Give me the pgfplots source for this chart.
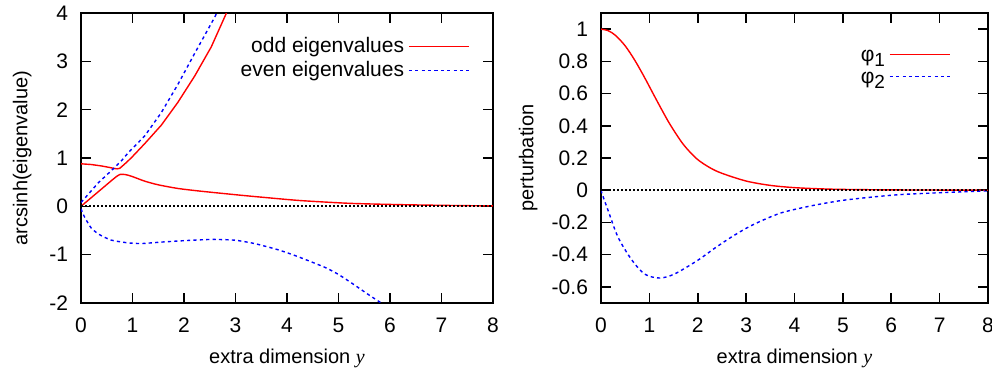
\documentclass[border=0pt]{standalone}
\usepackage{fontspec}
\setmainfont{Liberation Sans}
\newfontfamily\seriffont{Liberation Serif}
\usepackage{pgfplots}
\pgfplotsset{compat=1.18}
\newcommand{\sub}[1]{\raisebox{-0.45ex}{\fontsize{9.5}{10}\selectfont #1}}
\begin{document}
\begin{tikzpicture}
\pgfplotsset{
  every axis/.append style={
    scale only axis, height=145pt,
    axis line style={line width=1pt},
    tick style={black, line width=0.8pt},
    major tick length=5pt,
    tick align=inside,
    xmin=0, xmax=8, xtick={0,1,2,3,4,5,6,7,8},
    xticklabels={0,1,2,3,4,5,6,7,8},
    tick label style={font=\fontsize{10.5}{12}\selectfont},
    label style={font=\fontsize{10.5}{12}\selectfont},
    xticklabel style={yshift=-4pt},
    yticklabel style={xshift=-3pt},
    legend cell align=right,
    legend plot pos=right,
    every axis x label/.style={at={(axis description cs:0.5,-0.19)}, anchor=center},
  },
  redl/.style={red, line width=0.7pt},
  bluel/.style={blue, line width=0.7pt, dash pattern=on 1.6pt off 1.6pt},
  zerol/.style={black, line width=0.85pt, dash pattern=on 0.8pt off 1.2pt},
}
\begin{axis}[
  at={(0pt,0pt)}, anchor=south west,
  width=206pt,
  ymin=-2, ymax=4,
  ytick={-2,-1,0,1,2,3,4},
  yticklabels={-2,-1,0,1,2,3,4},
  xlabel={extra dimension {\seriffont\itshape y}},
  ylabel={arcsinh(eigenvalue)},
  every axis y label/.style={at={(axis description cs:-0.143,0.5)}, anchor=center, rotate=90},
  legend style={draw=none, fill=none, inner sep=0pt, font=\fontsize{10.5}{12}\selectfont,
    at={(axis description cs:0.944,0.843)}, anchor=east, row sep=-1pt},
  legend image code/.code={\draw[#1] (0pt,0pt) -- (30pt,0pt);},
]
% odd, upper branch
\addplot[redl] coordinates {
(0,0.88) (0.2,0.865) (0.4,0.835) (0.55,0.805) (0.65,0.782) (0.7,0.776) (0.75,0.785)
(0.8,0.83) (0.9,0.925) (1.0,1.03) (1.24,1.30) (1.56,1.68) (1.88,2.15) (2.21,2.70)
(2.53,3.30) (2.82,3.99) (3.0,4.4)};
\addlegendentry{odd eigenvalues}
% even, upper branch
\addplot[bluel] coordinates {
(0,0.08) (0.1,0.2) (0.33,0.48) (0.5,0.65) (0.62,0.77) (0.8,0.96) (0.91,1.10)
(1.24,1.46) (1.56,1.94) (1.88,2.52) (2.21,3.17) (2.6,3.92) (2.7,4.15)};
\addlegendentry{even eigenvalues}
% odd, lower branch
\addplot[redl, forget plot, smooth, tension=0.4] coordinates {
(0,0) (0.2,0.18) (0.4,0.36) (0.6,0.54) (0.7,0.625) (0.76,0.66) (0.82,0.662)
(0.9,0.648) (1.0,0.615) (1.24,0.52) (1.5,0.445) (1.88,0.37) (2.31,0.315)
(3.05,0.235) (3.5,0.19) (4.25,0.12) (5.22,0.062) (6.19,0.035) (7.17,0.018) (8,0.008)};
% even, lower branch
\addplot[bluel, forget plot, smooth, tension=0.4] coordinates {
(0,-0.05) (0.05,-0.18) (0.1,-0.28) (0.2,-0.45) (0.35,-0.58) (0.59,-0.70)
(0.91,-0.755) (1.17,-0.77) (1.56,-0.74) (2.01,-0.71) (2.53,-0.685) (2.98,-0.70)
(3.37,-0.77) (3.83,-0.90) (4.21,-1.04) (4.73,-1.26) (5.0,-1.41) (5.3,-1.62)
(5.6,-1.84) (5.83,-2.0) (6.0,-2.12)};
\addplot[zerol, forget plot] coordinates {(0,0) (8,0)};
\end{axis}
\begin{axis}[
  at={(260pt,0pt)}, anchor=south west,
  width=193.5pt,
  ymin=-0.7, ymax=1.1,
  ytick={-0.6,-0.4,-0.2,0,0.2,0.4,0.6,0.8,1},
  yticklabels={-0.6,-0.4,-0.2,0,0.2,0.4,0.6,0.8,1},
  xlabel={extra dimension {\seriffont\itshape y}},
  ylabel={perturbation},
  every axis y label/.style={at={(axis description cs:-0.188,0.5)}, anchor=center, rotate=90},
  legend style={draw=none, fill=none, inner sep=0pt, font=\fontsize{10.5}{12}\selectfont,
    at={(axis description cs:0.904,0.81)}, anchor=east, row sep=-0.2pt},
  legend image code/.code={\draw[#1] (0pt,1.2pt) -- (30pt,1.2pt);},
]
\addplot[redl, smooth, tension=0.5] coordinates {
(0,1) (0.15,0.99) (0.3,0.961) (0.5,0.896) (0.7,0.806) (0.9,0.700) (1.08,0.598)
(1.25,0.503) (1.43,0.407) (1.7,0.285) (1.98,0.195) (2.25,0.14) (2.5,0.105)
(3.0,0.057) (3.5,0.03) (4,0.016) (4.5,0.009) (5,0.005) (6,0.002) (7,0.001) (8,0.0)};
\addlegendentry{φ\sub{1}}
\addplot[bluel, smooth, tension=0.5] coordinates {
(0,0) (0.02,-0.02) (0.14,-0.12) (0.35,-0.29) (0.63,-0.43) (0.9,-0.52)
(1.21,-0.545) (1.52,-0.52) (2.0,-0.435) (2.35,-0.36) (2.70,-0.29) (3.04,-0.23)
(3.39,-0.18) (3.73,-0.14) (4.08,-0.114) (4.5,-0.088) (5.07,-0.06) (6.1,-0.029)
(7.14,-0.014) (8,-0.004)};
\addlegendentry{φ\sub{2}}
\addplot[zerol, forget plot] coordinates {(0,0) (8,0)};
\end{axis}
\pgfresetboundingbox
\path[use as bounding box] (-40.5pt,-35pt) rectangle (455.5pt,151.5pt);
\end{tikzpicture}
\end{document}
